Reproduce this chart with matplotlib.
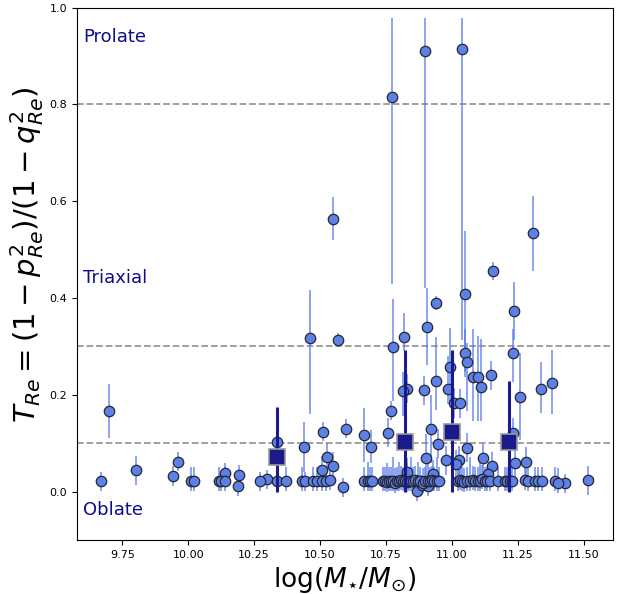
import numpy as np
import matplotlib
matplotlib.use("Agg")
import matplotlib.pyplot as plt

# individual galaxies: log stellar mass, triaxiality T_Re, lower / upper errors
logm = [
    9.699, 10.549, 10.774, 10.899, 11.039, 11.309, 10.462, 10.568, 11.157, 11.051,
    10.941, 11.237, 10.907, 10.819, 10.777, 11.051, 11.233, 11.058, 10.994, 11.081,
    11.100, 11.150, 10.941, 11.381, 11.340, 11.111, 10.830, 10.815, 10.895, 10.986,
    11.260, 11.009, 11.032, 10.770, 10.599, 10.667, 10.758, 10.922, 11.233, 10.337,
    10.439, 10.511, 10.694, 10.948,
    9.801, 9.942, 9.961, 10.139, 10.193, 10.189, 10.299, 10.508, 10.527, 10.549,
    10.587, 10.830, 10.869, 10.903, 10.929, 10.979, 11.028, 11.016, 11.058, 11.119,
    11.153, 11.138, 11.241, 11.283, 10.888, 10.910, 11.431, 11.518, 9.668,
    10.010, 10.022, 10.116, 10.124, 10.139, 10.272, 10.337, 10.371, 10.432, 10.443,
    10.474, 10.489, 10.508, 10.523, 10.538, 10.667, 10.682, 10.690, 10.698, 10.739,
    10.747, 10.755, 10.762, 10.770, 10.777, 10.785, 10.793, 10.800, 10.808, 10.815,
    10.823, 10.830, 10.838, 10.846, 10.853, 10.861, 10.872, 10.880, 10.891, 10.899,
    10.910, 10.918, 10.925, 10.933, 10.944, 10.952, 11.024, 11.032, 11.039, 11.047,
    11.058, 11.070, 11.081, 11.089, 11.100, 11.108, 11.115, 11.127, 11.134, 11.146,
    11.176, 11.203, 11.210, 11.222, 11.229, 11.279, 11.290, 11.317, 11.328, 11.343,
    11.393, 11.404,
]
t_re = [
    0.167, 0.564, 0.815, 0.910, 0.914, 0.534, 0.318, 0.313, 0.455, 0.408,
    0.390, 0.374, 0.341, 0.320, 0.298, 0.287, 0.287, 0.267, 0.258, 0.236,
    0.236, 0.240, 0.229, 0.225, 0.213, 0.216, 0.213, 0.207, 0.209, 0.211,
    0.196, 0.183, 0.183, 0.167, 0.130, 0.117, 0.122, 0.130, 0.122, 0.103,
    0.093, 0.124, 0.093, 0.099,
    0.044, 0.032, 0.062, 0.038, 0.034, 0.011, 0.025, 0.044, 0.071, 0.052,
    0.009, 0.040, 0.001, 0.069, 0.036, 0.065, 0.065, 0.056, 0.091, 0.069,
    0.052, 0.036, 0.060, 0.062, 0.014, 0.011, 0.017, 0.023, 0.021,
    0.021, 0.021, 0.021, 0.021, 0.021, 0.021, 0.021, 0.021, 0.021, 0.021,
    0.021, 0.021, 0.021, 0.021, 0.023, 0.021, 0.021, 0.021, 0.021, 0.021,
    0.021, 0.019, 0.021, 0.021, 0.021, 0.018, 0.021, 0.021, 0.023, 0.021,
    0.021, 0.019, 0.021, 0.021, 0.021, 0.023, 0.021, 0.021, 0.018, 0.021,
    0.021, 0.021, 0.023, 0.021, 0.021, 0.021, 0.021, 0.023, 0.021, 0.019,
    0.021, 0.021, 0.023, 0.021, 0.021, 0.021, 0.025, 0.021, 0.021, 0.021,
    0.021, 0.021, 0.021, 0.021, 0.021, 0.023, 0.021, 0.021, 0.021, 0.021,
    0.021, 0.018,
]
err_lo = [
    0.057, 0.044, 0.385, 0.490, 0.600, 0.079, 0.158, 0.015, 0.018, 0.160,
    0.015, 0.060, 0.080, 0.030, 0.110, 0.050, 0.060, 0.100, 0.080, 0.090,
    0.090, 0.030, 0.060, 0.065, 0.050, 0.070, 0.030, 0.050, 0.030, 0.030,
    0.090, 0.030, 0.030, 0.020, 0.020, 0.055, 0.030, 0.070, 0.030, 0.020,
    0.053, 0.020, 0.033, 0.030,
    0.030, 0.020, 0.020, 0.020, 0.020, 0.020, 0.020, 0.030, 0.030, 0.030,
    0.020, 0.030, 0.020, 0.040, 0.030, 0.030, 0.030, 0.030, 0.030, 0.030,
    0.030, 0.020, 0.030, 0.030, 0.020, 0.020, 0.020, 0.030, 0.020,
    0.020, 0.020, 0.020, 0.020, 0.020, 0.020, 0.020, 0.020, 0.020, 0.020,
    0.020, 0.020, 0.020, 0.020, 0.020, 0.020, 0.020, 0.020, 0.020, 0.020,
    0.020, 0.020, 0.020, 0.020, 0.020, 0.020, 0.020, 0.020, 0.020, 0.020,
    0.020, 0.020, 0.020, 0.020, 0.020, 0.020, 0.020, 0.020, 0.020, 0.020,
    0.020, 0.020, 0.020, 0.020, 0.020, 0.020, 0.020, 0.020, 0.020, 0.020,
    0.020, 0.020, 0.020, 0.020, 0.020, 0.020, 0.020, 0.020, 0.020, 0.020,
    0.020, 0.020, 0.020, 0.020, 0.020, 0.020, 0.020, 0.020, 0.020, 0.020,
    0.020, 0.020,
]
err_hi = [
    0.056, 0.045, 0.163, 0.068, 0.064, 0.077, 0.099, 0.015, 0.020, 0.130,
    0.015, 0.060, 0.080, 0.050, 0.100, 0.050, 0.050, 0.040, 0.080, 0.100,
    0.085, 0.030, 0.090, 0.068, 0.054, 0.100, 0.030, 0.040, 0.030, 0.070,
    0.090, 0.030, 0.030, 0.020, 0.020, 0.056, 0.030, 0.070, 0.030, 0.020,
    0.050, 0.020, 0.035, 0.030,
    0.030, 0.020, 0.020, 0.020, 0.020, 0.020, 0.020, 0.030, 0.030, 0.030,
    0.020, 0.030, 0.020, 0.050, 0.030, 0.030, 0.030, 0.030, 0.030, 0.030,
    0.030, 0.020, 0.030, 0.030, 0.020, 0.020, 0.020, 0.030, 0.020,
    0.030, 0.030, 0.030, 0.020, 0.030, 0.020, 0.030, 0.030, 0.030, 0.020,
    0.030, 0.030, 0.030, 0.020, 0.030, 0.030, 0.040, 0.030, 0.030, 0.030,
    0.030, 0.040, 0.030, 0.030, 0.050, 0.030, 0.030, 0.040, 0.030, 0.030,
    0.030, 0.040, 0.030, 0.050, 0.030, 0.030, 0.040, 0.030, 0.030, 0.030,
    0.040, 0.030, 0.030, 0.030, 0.050, 0.030, 0.030, 0.040, 0.030, 0.030,
    0.030, 0.050, 0.030, 0.030, 0.030, 0.040, 0.030, 0.030, 0.030, 0.030,
    0.030, 0.030, 0.030, 0.030, 0.030, 0.040, 0.030, 0.030, 0.030, 0.030,
    0.030, 0.030,
]

# binned medians
bin_logm = [10.337, 10.823, 11.002, 11.219]
bin_t = [0.071, 0.102, 0.124, 0.102]
bin_lo = [0.071, 0.102, 0.124, 0.102]
bin_hi = [0.104, 0.191, 0.169, 0.126]

boundaries = [0.1, 0.3, 0.8]
region_labels = ["Prolate", "Triaxial", "Oblate"]
region_y = [0.94, 0.442, -0.039]

fig = plt.figure(figsize=(6.25, 5.94), dpi=100)
ax = fig.add_axes([0.123, 0.091, 0.857, 0.896])

for b in boundaries:
    ax.axhline(b, color="0.6", ls="--", lw=1.3, zorder=1)

ax.errorbar(logm, t_re, yerr=[err_lo, err_hi], fmt="o", ms=7.5,
            mfc=(0.36, 0.50, 0.90), mec=(0.15, 0.15, 0.2), mew=0.9,
            ecolor=(0.33, 0.47, 0.92, 0.85), elinewidth=1.1, capsize=0, zorder=3)

ax.errorbar(bin_logm, bin_t, yerr=[bin_lo, bin_hi], fmt="s", ms=11.5,
            mfc="#1a1a8c", mec="0.6", mew=1.2,
            ecolor="#1a1a8c", elinewidth=2.2, capsize=0, zorder=5)

for lab, yy in zip(region_labels, region_y):
    ax.text(9.600, yy, lab, color="#0d0d8c", fontsize=13, va="center", ha="left")

ax.set_xlim(9.577, 11.61)
ax.set_ylim(-0.1, 1.0)
ax.set_xticks([9.75, 10.0, 10.25, 10.5, 10.75, 11.0, 11.25, 11.5])
ax.set_xticklabels(["9.75", "10.00", "10.25", "10.50", "10.75", "11.00", "11.25", "11.50"])
ax.set_yticks([0.0, 0.2, 0.4, 0.6, 0.8, 1.0])
ax.tick_params(labelsize=8)
ax.set_xlabel(r"$\log(M_{\star}/M_{\odot})$", fontsize=19)
ax.set_ylabel(r"$T_{Re}=(1-p_{Re}^2)/(1-q_{Re}^2)$", fontsize=21)
ax.yaxis.set_label_coords(-0.058, 0.535)

fig.savefig("out.png", dpi=100)
